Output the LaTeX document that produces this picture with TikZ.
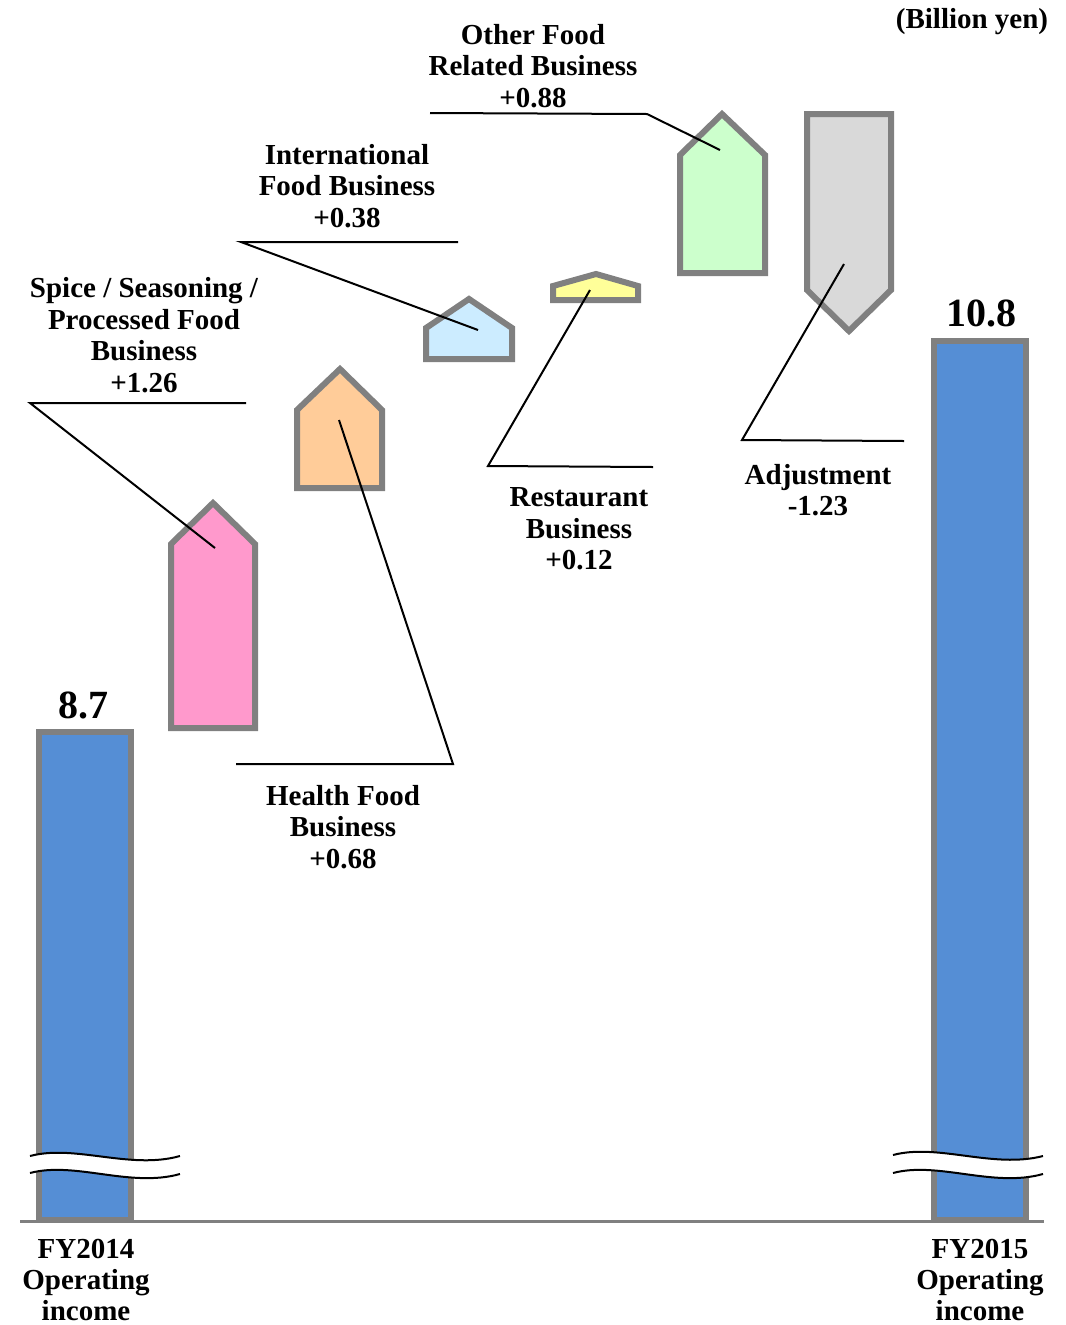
\documentclass[tikz,border=0pt]{standalone}
\usepackage{fontspec}
\setmainfont{Liberation Serif}

\definecolor{barblue}{HTML}{558ED5}
\definecolor{edgegray}{HTML}{808080}
\definecolor{spicepink}{HTML}{FF99CC}
\definecolor{healthorange}{HTML}{FFCC99}
\definecolor{intlblue}{HTML}{CCECFF}
\definecolor{restyellow}{HTML}{FFFF99}
\definecolor{othergreen}{HTML}{CCFFCC}
\definecolor{adjgray}{HTML}{D9D9D9}

\begin{document}
\begin{tikzpicture}[
    x=0.75pt, y=-0.75pt,
    box/.style={draw=edgegray, line width=4.5pt, line join=miter},
    leader/.style={draw=black, line width=1.5pt},
    label/.style={align=center, inner sep=0, font=\fontsize{21.75}{23.6}\selectfont\bfseries},
    value/.style={inner sep=0, font=\fontsize{30}{32}\selectfont\bfseries},
    wave/.style={draw=black, line width=1.5pt}
]

\useasboundingbox (0,0) rectangle (1066,1325);

% ============================================
% BARRAS FY2014 / FY2015
% ============================================

\draw[box, fill=barblue] (39,1220) rectangle (131,732);
\draw[box, fill=barblue] (934,1220) rectangle (1026,341);

% Linea base
\draw[edgegray, line width=2.25pt] (20,1221) -- (1044,1221);

% Cortes
\fill[white] (30,1156) .. controls (75,1144) and (130,1170) .. (180,1156)
    -- (180,1174) .. controls (130,1188) and (75,1161) .. (30,1173) -- cycle;
\draw[wave] (30,1156) .. controls (75,1144) and (130,1170) .. (180,1156);
\draw[wave] (30,1173) .. controls (75,1161) and (130,1188) .. (180,1174);

\fill[white] (893,1155) .. controls (938,1143) and (993,1169) .. (1043,1156)
    -- (1043,1174) .. controls (993,1188) and (938,1161) .. (893,1173) -- cycle;
\draw[wave] (893,1155) .. controls (938,1143) and (993,1169) .. (1043,1156);
\draw[wave] (893,1173) .. controls (938,1161) and (993,1188) .. (1043,1174);

% Valores
\node[value] (val2014) at (83,705) {8.7};
\node[value] (val2015) at (981,313) {10.8};

% Ejes
\node[label] (fy2014) at (86,1280) {FY2014\\Operating\\income};
\node[label] (fy2015) at (980,1280) {FY2015\\Operating\\income};
\node[label] (unit) at (972,22) {(Billion yen)};

% ============================================
% FLECHAS POR SEGMENTO
% ============================================

% Spice / Seasoning / Processed Food
\draw[box, fill=spicepink] (171,728) -- (171,544) -- (213,503) -- (255,544) -- (255,728) -- cycle;
% Health Food
\draw[box, fill=healthorange] (297,488) -- (297,410) -- (340,369) -- (382,410) -- (382,488) -- cycle;
% International Food
\draw[box, fill=intlblue] (426,359) -- (426,328) -- (469,299) -- (512,328) -- (512,359) -- cycle;
% Restaurant
\draw[box, fill=restyellow] (553,300) -- (553,286) -- (596,274) -- (638,286) -- (638,300) -- cycle;
% Other Food Related
\draw[box, fill=othergreen] (680,273) -- (680,155) -- (722,114) -- (765,155) -- (765,273) -- cycle;
% Adjustment
\draw[box, fill=adjgray] (807,114) -- (807,290) -- (849,331) -- (891,290) -- (891,114) -- cycle;

% ============================================
% ETIQUETAS Y LINEAS GUIA
% ============================================

\node[label] (lblSpice) at (144,335) {Spice / Seasoning /\\Processed Food\\Business\\+1.26};
\coordinate (spicePt) at (215,548);
\coordinate (spiceBend) at (30,403);
\coordinate (spiceEnd) at (246,403);
\draw[leader] (spicePt) -- (spiceBend) -- (spiceEnd);

\node[label] (lblHealth) at (343,827) {Health Food\\Business\\+0.68};
\coordinate (healthPt) at (339,420);
\coordinate (healthBend) at (453,764);
\coordinate (healthEnd) at (236,764);
\draw[leader] (healthPt) -- (healthBend) -- (healthEnd);

\node[label] (lblIntl) at (347,186) {International\\Food Business\\+0.38};
\coordinate (intlPt) at (478,330);
\coordinate (intlBend) at (241,242);
\coordinate (intlEnd) at (458,242);
\draw[leader] (intlPt) -- (intlBend) -- (intlEnd);

\node[label] (lblRest) at (579,529) {Restaurant\\Business\\+0.12};
\coordinate (restPt) at (590,290);
\coordinate (restBend) at (488,466);
\coordinate (restEnd) at (653,467);
\draw[leader] (restPt) -- (restBend) -- (restEnd);

\node[label] (lblOther) at (533,66) {Other Food\\Related Business\\+0.88};
\coordinate (otherPt) at (720,150);
\coordinate (otherBend) at (647,114);
\coordinate (otherEnd) at (430,113);
\draw[leader] (otherPt) -- (otherBend) -- (otherEnd);

\node[label] (lblAdj) at (818,490) {Adjustment\\-1.23};
\coordinate (adjPt) at (844,264);
\coordinate (adjBend) at (742,440);
\coordinate (adjEnd) at (904,441);
\draw[leader] (adjPt) -- (adjBend) -- (adjEnd);

\end{tikzpicture}
\end{document}
